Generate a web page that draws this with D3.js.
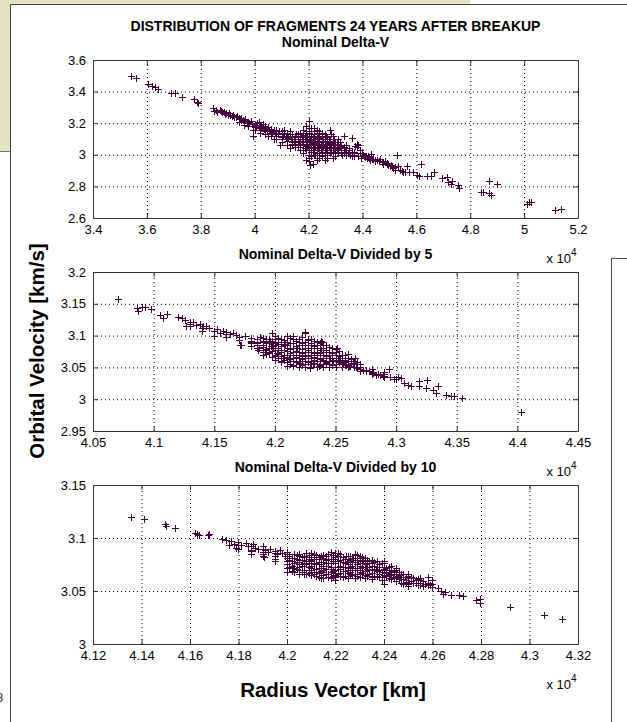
<!DOCTYPE html>
<html>
<head>
<meta charset="utf-8">
<script src="https://cdn.jsdelivr.net/npm/d3@7"></script>
<style>
  body { margin: 0; background: #fff; }
  text { font-family: "Liberation Sans", Arial, sans-serif; }
</style>
</head>
<body>
<script>
"use strict";

// ---- data (x in units of 10^4 km, y in km/s) ----
let nominalPoints = [
	// upper left tail
	[3.54,3.50],[3.561,3.488],[3.604,3.446],[3.62,3.437],[3.629,3.431],[3.643,3.414],[3.691,3.389],[3.703,3.389],
	[3.73,3.364],[3.775,3.351],[3.787,3.334],[3.79,3.326],
	// band 3.84 - 4.0
	[3.845,3.298],[3.848,3.28],[3.855,3.285],[3.862,3.27],[3.87,3.282],[3.875,3.275],[3.88,3.268],[3.885,3.272],
	[3.89,3.26],[3.895,3.265],[3.9,3.255],[3.905,3.262],[3.91,3.25],[3.915,3.245],[3.92,3.255],[3.925,3.24],
	[3.93,3.238],[3.935,3.245],[3.94,3.23],[3.945,3.228],[3.95,3.235],[3.955,3.22],[3.96,3.215],[3.965,3.225],
	[3.97,3.21],[3.975,3.205],[3.98,3.2],[3.985,3.212],[3.99,3.195],[3.993,3.158],[3.995,3.118],[3.96,3.19],
	[3.94,3.205],[3.975,3.185],
	// band 4.0 - 4.15
	[4.0,3.19],[4.005,3.18],[4.01,3.2],[4.015,3.175],[4.02,3.185],[4.025,3.17],[4.03,3.195],[4.035,3.165],
	[4.04,3.18],[4.045,3.16],[4.05,3.175],[4.055,3.15],[4.06,3.165],[4.065,3.145],[4.07,3.16],[4.075,3.14],
	[4.08,3.155],[4.085,3.13],[4.09,3.15],[4.094,3.063],[4.1,3.14],[4.105,3.12],[4.11,3.135],[4.115,3.11],
	[4.12,3.13],[4.125,3.105],[4.13,3.12],[4.135,3.1],[4.14,3.115],[4.145,3.09],[4.15,3.11],[4.02,3.14],
	[4.04,3.13],[4.06,3.12],[4.08,3.1],[4.1,3.08],[4.12,3.06],[4.13,3.04],[4.11,3.16],[4.13,3.15],
	[4.05,3.12],[4.015,3.205],[4.0,3.16],[4.07,3.1],[4.14,3.07],[4.15,3.05],
	[4.0,3.185],[4.0,3.175],[4.02,3.17],[4.02,3.16],[4.02,3.19],[4.04,3.16],[4.04,3.15],[4.04,3.17],
	[4.06,3.15],[4.06,3.14],[4.06,3.13],[4.08,3.14],[4.08,3.13],[4.08,3.12],[4.08,3.15],[4.1,3.13],
	[4.1,3.12],[4.1,3.11],[4.1,3.1],[4.1,3.15],[4.12,3.12],[4.12,3.11],[4.12,3.1],[4.12,3.09],
	[4.12,3.14],[4.14,3.11],[4.14,3.1],[4.14,3.08],[4.14,3.13],[4.14,3.06],
	// core
	[4.155,3.13],[4.16,3.1],[4.165,3.08],[4.17,3.06],[4.175,3.12],[4.18,3.09],[4.185,3.04],[4.19,3.15],
	[4.195,3.07],[4.2,3.215],[4.2,3.11],[4.2,3.05],[4.203,2.98],[4.206,2.937],[4.21,3.17],[4.21,3.09],
	[4.215,3.02],[4.218,2.943],[4.22,3.13],[4.22,3.06],[4.225,3.1],[4.225,3.0],[4.23,3.16],[4.23,3.08],
	[4.235,3.04],[4.24,3.12],[4.24,2.98],[4.245,3.07],[4.25,3.14],[4.25,3.03],[4.255,3.1],[4.26,3.06],
	[4.26,2.97],[4.265,3.12],[4.27,3.04],[4.275,3.09],[4.28,3.158],[4.28,3.01],[4.285,3.133],[4.285,3.06],
	[4.29,3.03],[4.295,3.1],[4.3,3.05],[4.3,2.99],[4.305,3.08],[4.31,3.02],[4.317,3.08],[4.32,3.04],
	[4.325,3.0],[4.33,3.12],[4.335,3.03],[4.34,3.06],[4.345,3.01],[4.35,3.04],[4.355,3.0],[4.36,3.02],
	[4.37,3.0],[4.38,3.05],[4.385,2.99],[4.39,3.01],[4.395,2.98],
	[4.17,3.11],[4.18,3.125],[4.185,3.1],[4.19,3.08],[4.195,3.12],[4.2,3.09],[4.205,3.07],[4.21,3.12],
	[4.215,3.06],[4.22,3.09],[4.225,3.05],[4.23,3.11],[4.235,3.07],[4.24,3.09],[4.245,3.04],[4.25,3.08],
	[4.255,3.05],[4.26,3.09],[4.265,3.03],[4.27,3.07],[4.275,3.05],[4.28,3.08],[4.285,3.02],[4.29,3.06],
	[4.295,3.04],[4.3,3.07],[4.31,3.05],[4.32,3.06],[4.33,3.04],[4.34,3.03],[4.19,3.03],[4.2,3.0],
	[4.21,3.04],[4.22,3.02],[4.23,3.03],[4.24,3.05],[4.25,3.0],[4.26,3.02],[4.27,3.0],[4.28,3.03],
	[4.17,3.14],[4.18,3.16],[4.19,3.18],[4.2,3.14],[4.21,3.15],[4.22,3.17],[4.24,3.15],[4.26,3.13],
	[4.27,3.11],[4.29,3.12],[4.31,3.1],[4.16,3.05],[4.17,3.03],[4.18,3.01],[4.19,2.97],[4.2,2.96],
	[4.21,2.99],[4.23,2.97],[4.25,2.99],[4.27,2.98],[4.29,2.98],
	// core fill
	[4.15,3.09],[4.15,3.12],[4.15,3.07],[4.15,3.1],[4.16,3.11],[4.16,3.08],[4.16,3.13],[4.16,3.06],
	[4.17,3.09],[4.17,3.12],[4.17,3.07],[4.17,3.1],[4.17,3.05],[4.18,3.11],[4.18,3.08],[4.18,3.06],
	[4.18,3.14],[4.18,3.03],[4.19,3.1],[4.19,3.12],[4.19,3.06],[4.19,3.04],[4.19,3.09],[4.2,3.12],
	[4.2,3.08],[4.2,3.06],[4.2,3.03],[4.2,3.1],[4.2,3.17],[4.21,3.11],[4.21,3.07],[4.21,3.05],
	[4.21,3.02],[4.21,3.13],[4.21,3.09],[4.22,3.1],[4.22,3.08],[4.22,3.04],[4.22,3.0],[4.22,3.12],
	[4.22,3.15],[4.22,3.06],[4.23,3.09],[4.23,3.06],[4.23,3.04],[4.23,3.01],[4.23,3.12],[4.23,3.14],
	[4.23,3.07],[4.24,3.1],[4.24,3.07],[4.24,3.06],[4.24,3.03],[4.24,3.01],[4.24,3.13],[4.24,3.08],
	[4.25,3.09],[4.25,3.06],[4.25,3.05],[4.25,3.02],[4.25,3.11],[4.25,3.07],[4.25,3.04],[4.26,3.08],
	[4.26,3.05],[4.26,3.04],[4.26,3.01],[4.26,3.1],[4.26,3.07],[4.26,3.03],[4.27,3.08],[4.27,3.06],
	[4.27,3.05],[4.27,3.02],[4.27,3.09],[4.27,3.03],[4.28,3.06],[4.28,3.05],[4.28,3.04],[4.28,3.02],
	[4.28,3.07],[4.28,3.09],[4.29,3.05],[4.29,3.04],[4.29,3.02],[4.29,3.07],[4.29,3.08],[4.29,3.01],
	[4.3,3.04],[4.3,3.03],[4.3,3.02],[4.3,3.06],[4.3,3.01],[4.3,3.08],[4.31,3.04],[4.31,3.03],
	[4.31,3.06],[4.31,3.01],[4.31,3.07],[4.32,3.03],[4.32,3.02],[4.32,3.05],[4.32,3.01],[4.33,3.02],
	[4.33,3.03],[4.33,3.01],[4.33,3.05],[4.34,3.02],[4.34,3.01],[4.34,3.04],[4.34,3.0],[4.35,3.02],
	[4.35,3.01],[4.35,3.03],[4.36,3.01],[4.36,3.0],[4.36,2.99],[4.37,3.01],[4.37,3.02],[4.37,2.99],
	[4.175,3.085],[4.185,3.115],[4.195,3.055],[4.205,3.095],[4.215,3.045],[4.215,3.115],[4.225,3.075],[4.235,3.105],
	[4.245,3.055],[4.255,3.085],[4.265,3.045],[4.275,3.075],[4.285,3.045],[4.295,3.065],[4.305,3.035],[4.315,3.055],
	// band 4.36 - 4.56
	[4.3605,3.1032],[4.3728,3.0568],[4.379,3.0673],[4.3852,3.0632],[4.3914,3.0316],[4.4,3.0105],[4.4037,3.0],
	[4.4099,2.9853],[4.416,2.979],[4.4222,2.9895],[4.4321,3.0063],[4.4284,2.9684],[4.4407,2.9726],[4.4469,2.9579],
	[4.4556,2.9642],[4.4654,2.9726],[4.4716,2.9516],[4.4778,2.9432],[4.484,2.9579],[4.4901,2.9474],[4.4963,2.9368],
	[4.5025,2.9263],[4.5086,2.9305],[4.5148,2.9158],[4.521,2.9053],[4.5333,2.9263],[4.5395,2.9053],[4.5457,2.8968],
	[4.5519,2.8926],[4.558,2.8884],[4.405,2.995],[4.415,2.99],[4.425,2.98],[4.435,2.975],[4.445,2.965],
	[4.46,2.96],[4.475,2.955],[4.49,2.94],[4.505,2.935],[4.52,2.92],
	// right tail
	[4.564,2.926],[4.53,3.0],[4.546,2.895],[4.573,2.888],[4.589,2.888],[4.601,2.874],[4.617,2.943],[4.611,2.863],
	[4.638,2.863],[4.654,2.863],[4.667,2.89],[4.694,2.853],[4.712,2.859],[4.718,2.825],[4.727,2.817],[4.731,2.832],
	[4.756,2.806],[4.757,2.789],[4.84,2.764],[4.848,2.764],[4.868,2.834],[4.87,2.758],[4.877,2.747],[4.898,2.815],
	[5.012,2.69],[5.017,2.699],[5.025,2.70],[5.114,2.651],[5.137,2.657]
];

let divided5Points = [
	[4.0706,3.1575],[4.0863,3.1433],[4.0868,3.139],[4.09,3.145],[4.0927,3.145],[4.0982,3.1418],[4.105,3.132],
	[4.1078,3.128],[4.111,3.134],[4.12,3.13],[4.123,3.128],[4.1257,3.125],[4.1265,3.1145],[4.13,3.122],
	[4.1326,3.121],[4.1353,3.117],[4.138,3.119],[4.141,3.1155],[4.1436,3.1145],[4.146,3.112],[4.152,3.11],
	[4.1546,3.104],[4.1573,3.1066],[4.16,3.105],[4.1628,3.103],[4.1656,3.104],[4.1683,3.101],[4.171,3.0856],
	[4.1724,3.0856],[4.175,3.1],[4.18,3.097],[4.185,3.094],[4.1873,3.08],[4.19,3.092],[4.195,3.09],
	[4.198,3.104],[4.2,3.088],[4.1875,3.098],[4.19,3.096],[4.193,3.094],[4.196,3.091],
	[4.13,3.118],[4.13,3.115],[4.14,3.112],[4.14,3.108],[4.15,3.108],[4.15,3.1],[4.16,3.102],[4.16,3.098],
	[4.17,3.098],[4.17,3.093],[4.18,3.092],[4.18,3.088],[4.18,3.083],[4.185,3.09],[4.185,3.085],[4.185,3.08],
	// core
	[4.2,3.095],[4.2,3.08],[4.2,3.07],[4.205,3.09],[4.205,3.075],[4.205,3.06],[4.21,3.1],[4.21,3.085],
	[4.21,3.07],[4.215,3.095],[4.215,3.08],[4.215,3.065],[4.22,3.09],[4.22,3.075],[4.22,3.06],[4.225,3.085],
	[4.225,3.07],[4.225,3.055],[4.23,3.095],[4.23,3.08],[4.23,3.065],[4.235,3.085],[4.235,3.07],[4.24,3.08],
	[4.24,3.065],[4.24,3.055],[4.245,3.075],[4.245,3.06],[4.25,3.07],[4.25,3.06],[4.255,3.065],[4.255,3.055],
	[4.26,3.06],[4.265,3.055],[4.27,3.05],[4.275,3.045],[4.28,3.043],[4.285,3.04],[4.29,3.037],[4.295,3.035],
	[4.3,3.031],[4.195,3.075],[4.19,3.085],[4.185,3.088],[4.18,3.09],[4.2124,3.0594],[4.2151,3.0515],
	[4.2206,3.0568],[4.2289,3.0505],[4.2068,3.0646],[4.1986,3.083],[4.1862,3.0777],[4.2247,3.104],
	[4.2385,3.0893],[4.2509,3.0798],[4.2245,3.105],[4.2382,3.0909],[4.2505,3.0793],[4.2602,3.0715],
	[4.2657,3.0646],[4.2643,3.0568],[4.2945,3.0474],
	// core fill
	[4.19,3.09],[4.19,3.082],[4.19,3.075],[4.19,3.07],[4.195,3.088],[4.195,3.08],[4.195,3.072],[4.195,3.095],
	[4.2,3.085],[4.2,3.077],[4.2,3.068],[4.2,3.062],[4.2,3.09],[4.2,3.1],[4.205,3.083],[4.205,3.078],
	[4.205,3.068],[4.205,3.058],[4.205,3.095],[4.21,3.09],[4.21,3.08],[4.21,3.076],[4.21,3.066],[4.21,3.058],
	[4.21,3.052],[4.215,3.088],[4.215,3.075],[4.215,3.07],[4.215,3.06],[4.215,3.054],[4.215,3.1],[4.22,3.095],
	[4.22,3.085],[4.22,3.07],[4.22,3.065],[4.22,3.056],[4.22,3.05],[4.225,3.09],[4.225,3.08],[4.225,3.075],
	[4.225,3.065],[4.225,3.06],[4.225,3.05],[4.23,3.088],[4.23,3.085],[4.23,3.075],[4.23,3.07],[4.23,3.06],
	[4.23,3.055],[4.235,3.09],[4.235,3.08],[4.235,3.075],[4.235,3.065],[4.235,3.06],[4.235,3.055],[4.235,3.05],
	[4.24,3.085],[4.24,3.075],[4.24,3.07],[4.24,3.06],[4.24,3.05],[4.245,3.082],[4.245,3.07],[4.245,3.065],
	[4.245,3.055],[4.245,3.05],[4.25,3.075],[4.25,3.065],[4.25,3.055],[4.25,3.05],[4.255,3.07],[4.255,3.06],
	[4.255,3.05],[4.26,3.065],[4.26,3.055],[4.26,3.05],[4.265,3.06],[4.265,3.05],[4.27,3.055],[4.27,3.045],
	[4.28,3.048],[4.28,3.04],[4.29,3.042],[4.29,3.035],
	[4.202,3.073],[4.208,3.087],[4.212,3.063],[4.218,3.081],[4.222,3.068],[4.227,3.093],[4.232,3.062],[4.238,3.078],
	[4.242,3.058],[4.247,3.073],[4.252,3.061],[4.258,3.058],[4.262,3.052],[4.268,3.049],[4.197,3.083],[4.192,3.078],
	[4.1925,3.088],[4.1925,3.079],[4.1925,3.071],[4.1975,3.092],[4.1975,3.084],[4.1975,3.076],[4.1975,3.066],
	[4.2025,3.096],[4.2025,3.087],[4.2025,3.08],[4.2025,3.071],[4.2025,3.064],[4.2075,3.093],[4.2075,3.085],
	[4.2075,3.077],[4.2075,3.07],[4.2075,3.062],[4.2125,3.097],[4.2125,3.088],[4.2125,3.079],[4.2125,3.072],
	[4.2125,3.064],[4.2125,3.056],[4.2175,3.092],[4.2175,3.084],[4.2175,3.076],[4.2175,3.067],[4.2175,3.058],
	[4.2225,3.098],[4.2225,3.088],[4.2225,3.079],[4.2225,3.072],[4.2225,3.063],[4.2225,3.054],[4.2275,3.094],
	[4.2275,3.086],[4.2275,3.077],[4.2275,3.068],[4.2275,3.058],[4.2325,3.091],[4.2325,3.083],[4.2325,3.073],
	[4.2325,3.066],[4.2325,3.057],[4.2375,3.088],[4.2375,3.081],[4.2375,3.072],[4.2375,3.063],[4.2375,3.053],
	[4.2425,3.085],[4.2425,3.077],[4.2425,3.068],[4.2425,3.058],[4.2475,3.08],[4.2475,3.072],[4.2475,3.062],
	[4.2475,3.053],[4.2525,3.076],[4.2525,3.068],[4.2525,3.058],[4.2575,3.07],[4.2575,3.062],[4.2575,3.053],
	[4.2625,3.063],[4.2625,3.056],[4.2675,3.058],[4.2675,3.051],
	// band 4.23 - 4.29
	[4.2533,3.062],[4.256,3.0568],[4.2588,3.0541],[4.2615,3.0515],[4.267,3.0505],[4.2698,3.0473],[4.2725,3.0463],
	[4.2753,3.0452],[4.278,3.0436],[4.2808,3.041],[4.2863,3.0384],[4.2904,3.04],[4.2396,3.062],[4.2423,3.0568],
	[4.2451,3.0646],[4.2478,3.0594],[4.2286,3.0489],[4.2313,3.0568],[4.2368,3.0515],
	// right tail
	[4.2835,3.0384],[4.289,3.0358],[4.2986,3.0316],[4.3014,3.0342],[4.3041,3.0332],[4.3069,3.0253],[4.3096,3.0227],
	[4.3124,3.0211],[4.3187,3.0279],[4.3192,3.02],[4.3255,3.0305],[4.3247,3.0174],[4.3302,3.0137],[4.333,3.0105],
	[4.3343,3.02],[4.3412,3.0069],[4.3453,3.0053],[4.3481,3.0043],[4.3544,3.0017],[4.403,2.9792]
];

let divided10Points = [
	[4.1356,3.1198],[4.1411,3.1176],[4.1497,3.1129],[4.1501,3.1116],[4.1538,3.1091],[4.162,3.1044],[4.163,3.1035],
	[4.1638,3.1028],[4.1675,3.1025],[4.168,3.1035],
	[4.173,3.0987],[4.175,3.098],[4.177,3.097],[4.178,3.094],[4.18,3.096],[4.181,3.093],[4.183,3.095],[4.184,3.092],
	[4.186,3.094],[4.187,3.091],[4.188,3.09],[4.19,3.092],[4.191,3.089],[4.192,3.087],[4.193,3.09],[4.195,3.088],
	[4.196,3.085],[4.197,3.089],[4.198,3.086],[4.199,3.083],[4.2,3.087],[4.179,3.091],[4.185,3.089],[4.19,3.085],
	[4.195,3.08],[4.176,3.093],[4.1904,3.0818],[4.2025,3.072],
	[4.18,3.093],[4.18,3.09],[4.185,3.092],[4.185,3.088],[4.185,3.085],[4.19,3.09],[4.19,3.087],[4.19,3.083],
	[4.195,3.086],[4.195,3.083],[4.195,3.078],
	// core
	[4.201,3.083],[4.202,3.078],[4.203,3.085],[4.204,3.08],[4.205,3.075],[4.206,3.082],[4.207,3.07],[4.208,3.078],
	[4.209,3.084],[4.21,3.074],[4.211,3.08],[4.212,3.068],[4.213,3.077],[4.2134,3.0635],[4.214,3.083],[4.215,3.072],
	[4.216,3.079],[4.217,3.066],[4.218,3.076],[4.219,3.084],[4.2196,3.0603],[4.22,3.07],[4.221,3.078],[4.222,3.064],
	[4.223,3.082],[4.224,3.073],[4.2244,3.0828],[4.225,3.067],[4.226,3.077],[4.227,3.07],[4.2271,3.0815],[4.228,3.062],
	[4.229,3.075],[4.23,3.068],[4.231,3.079],[4.2313,3.0784],[4.232,3.065],[4.2326,3.0727],[4.234,3.07],[4.235,3.063],
	[4.236,3.074],[4.2368,3.0711],[4.238,3.066],[4.239,3.06],[4.24,3.068],[4.2402,3.057],[4.241,3.064],[4.2423,3.0664],
	[4.243,3.061],[4.244,3.066],[4.245,3.059],[4.2464,3.0634],[4.247,3.058],[4.2491,3.0587],[4.25,3.057],[4.251,3.059],
	[4.2533,3.0603],[4.254,3.056],[4.255,3.058],[4.256,3.055],[4.257,3.057],[4.2581,3.0628],[4.2581,3.0555],[4.259,3.056],
	[4.205,3.07],[4.21,3.065],[4.215,3.062],[4.22,3.08],[4.225,3.075],[4.23,3.072],[4.235,3.078],[4.24,3.073],
	[4.208,3.086],[4.212,3.082],[4.218,3.071],[4.222,3.074],[4.226,3.066],[4.233,3.076],[4.237,3.069],[4.2,3.075],
	[4.203,3.072],[4.243,3.07],[4.246,3.065],[4.217,3.085],[4.221,3.083],[4.229,3.084],
	// core fill
	[4.2,3.085],[4.2,3.081],[4.2,3.078],[4.2,3.072],[4.2,3.068],[4.205,3.083],[4.205,3.079],[4.205,3.073],
	[4.205,3.066],[4.21,3.082],[4.21,3.078],[4.21,3.076],[4.21,3.07],[4.21,3.068],[4.215,3.081],[4.215,3.077],
	[4.215,3.074],[4.215,3.068],[4.215,3.065],[4.22,3.084],[4.22,3.078],[4.22,3.073],[4.22,3.067],[4.22,3.063],
	[4.22,3.086],[4.225,3.08],[4.225,3.078],[4.225,3.072],[4.225,3.064],[4.225,3.062],[4.23,3.081],[4.23,3.076],
	[4.23,3.07],[4.23,3.066],[4.23,3.063],[4.235,3.079],[4.235,3.074],[4.235,3.067],[4.235,3.061],[4.24,3.076],
	[4.24,3.071],[4.24,3.065],[4.24,3.06],[4.245,3.072],[4.245,3.068],[4.245,3.062],[4.25,3.066],[4.25,3.062],
	[4.25,3.058],[4.25,3.055],[4.255,3.062],[4.255,3.06],[4.255,3.056],[4.26,3.057],[4.26,3.054],[4.26,3.06],
	[4.202,3.081],[4.202,3.074],[4.202,3.069],[4.204,3.084],[4.204,3.077],[4.204,3.071],[4.206,3.079],[4.206,3.074],
	[4.206,3.068],[4.208,3.082],[4.208,3.075],[4.208,3.066],[4.21,3.086],[4.21,3.079],[4.21,3.072],[4.212,3.084],
	[4.212,3.076],[4.212,3.071],[4.212,3.064],[4.214,3.08],[4.214,3.075],[4.214,3.069],[4.214,3.062],[4.216,3.083],
	[4.216,3.076],[4.216,3.071],[4.216,3.066],[4.218,3.087],[4.218,3.08],[4.218,3.073],[4.218,3.068],[4.218,3.062],
	[4.22,3.082],[4.22,3.076],[4.22,3.065],[4.222,3.085],[4.222,3.079],[4.222,3.071],[4.222,3.067],[4.224,3.08],
	[4.224,3.076],[4.224,3.069],[4.224,3.064],[4.226,3.083],[4.226,3.079],[4.226,3.073],[4.226,3.068],[4.228,3.085],
	[4.228,3.077],[4.228,3.072],[4.228,3.066],[4.23,3.083],[4.23,3.078],[4.23,3.074],[4.232,3.081],[4.232,3.075],
	[4.232,3.069],[4.232,3.062],[4.234,3.078],[4.234,3.073],[4.234,3.066],[4.236,3.077],[4.236,3.071],[4.236,3.064],
	[4.238,3.075],[4.238,3.07],[4.238,3.063],[4.24,3.078],[4.24,3.07],[4.242,3.073],[4.242,3.068],[4.242,3.062],
	[4.244,3.069],[4.244,3.063],[4.246,3.068],[4.246,3.061],[4.248,3.066],[4.248,3.061],[4.248,3.057],[4.25,3.064],
	[4.252,3.062],[4.252,3.058],[4.254,3.061],[4.256,3.059],[4.258,3.058],
	[4.201,3.079],[4.201,3.073],[4.203,3.081],[4.203,3.076],[4.203,3.068],[4.205,3.085],[4.205,3.077],[4.207,3.083],
	[4.207,3.076],[4.207,3.066],[4.209,3.08],[4.209,3.073],[4.209,3.067],[4.211,3.085],[4.211,3.075],[4.211,3.066],
	[4.213,3.082],[4.213,3.072],[4.213,3.067],[4.215,3.084],[4.215,3.07],[4.217,3.08],[4.217,3.074],[4.217,3.063],
	[4.219,3.078],[4.219,3.069],[4.219,3.064],[4.221,3.086],[4.221,3.073],[4.221,3.066],[4.223,3.077],[4.223,3.069],
	[4.223,3.063],[4.225,3.083],[4.225,3.07],[4.227,3.081],[4.227,3.074],[4.227,3.065],[4.229,3.079],[4.229,3.07],
	[4.229,3.064],[4.231,3.082],[4.231,3.073],[4.231,3.067],[4.233,3.079],[4.233,3.071],[4.233,3.064],[4.235,3.076],
	[4.235,3.07],[4.237,3.078],[4.237,3.073],[4.237,3.064],[4.239,3.076],[4.239,3.068],[4.239,3.063],[4.241,3.072],
	[4.241,3.067],[4.243,3.074],[4.243,3.065],[4.245,3.07],[4.245,3.064],[4.247,3.066],[4.247,3.061],[4.249,3.063],
	[4.249,3.06],[4.251,3.063],[4.253,3.058],[4.255,3.06],
	// right tail
	[4.2622,3.0532],[4.2636,3.05],[4.2643,3.0468],[4.265,3.049],[4.2677,3.0459],[4.2711,3.0459],[4.2725,3.045],
	[4.278,3.0412],[4.2794,3.0427],[4.2794,3.0387],[4.292,3.0349],[4.3059,3.0276],[4.3135,3.0232]
];

let nominalXTicks = [3.4,3.6,3.8,4,4.2,4.4,4.6,4.8,5,5.2];
let nominalYTicks = [2.6,2.8,3,3.2,3.4,3.6];
let divided5XTicks = [4.05,4.1,4.15,4.2,4.25,4.3,4.35,4.4,4.45];
let divided5YTicks = [2.95,3,3.05,3.1,3.15,3.2];
let divided10XTicks = [4.12,4.14,4.16,4.18,4.2,4.22,4.24,4.26,4.28,4.3,4.32];
let divided10YTicks = [3,3.05,3.1,3.15];

let mainTitle = "DISTRIBUTION OF FRAGMENTS 24 YEARS AFTER BREAKUP";
let panelTitles = ["Nominal Delta-V", "Nominal Delta-V Divided by 5", "Nominal Delta-V Divided by 10"];

// ---- layout ----
let width = 627, height = 722;
let left = 93, right = 578;
let markerColor = "#47003f";

let panels = [
	{ points: nominalPoints, xTicks: nominalXTicks, yTicks: nominalYTicks, top: 60, bottom: 218, title: panelTitles[0] },
	{ points: divided5Points, xTicks: divided5XTicks, yTicks: divided5YTicks, top: 272, bottom: 431, title: panelTitles[1] },
	{ points: divided10Points, xTicks: divided10XTicks, yTicks: divided10YTicks, top: 485, bottom: 644, title: panelTitles[2] }
];

let svg = d3.select("body").append("svg")
	.attr("width", width)
	.attr("height", height);

// window background bits
svg.append("rect").attr("width", width).attr("height", height).attr("fill", "#fff");
svg.append("rect").attr("x", 0).attr("y", 0).attr("width", 470).attr("height", 152).attr("fill", "#e4e1c5");
svg.append("line").attr("x1", 0).attr("x2", 10).attr("y1", 151.5).attr("y2", 151.5).attr("stroke", "#777");
svg.append("text").attr("x", -4).attr("y", 702).attr("font-size", 13).attr("fill", "#333").text("8");
svg.append("rect")
	.attr("x", 10.5).attr("y", 4.5)
	.attr("width", width).attr("height", height)
	.attr("fill", "#fff")
	.attr("stroke", "#444");
svg.append("path")
	.attr("d", "M611.5," + height + "V258.5H" + width)
	.attr("fill", "none")
	.attr("stroke", "#444");

let fmt = function(d) { return String(+d.toFixed(2)); };

svg.append("text")
	.attr("x", (left + right) / 2).attr("y", 31)
	.attr("text-anchor", "middle")
	.attr("font-size", 14).attr("font-weight", "bold")
	.text(mainTitle);

panels.forEach(function(p)
{
	let x = d3.scaleLinear().domain(d3.extent(p.xTicks)).range([left, right]);
	let y = d3.scaleLinear().domain(d3.extent(p.yTicks)).range([p.bottom, p.top]);
	let h = p.bottom - p.top;
	let g = svg.append("g");

	// dotted grid
	g.append("g")
		.attr("transform", "translate(0," + p.bottom + ")")
		.call(d3.axisBottom(x).tickValues(p.xTicks.slice(1, -1)).tickSize(-h).tickFormat(""))
		.call(function(s) { s.select(".domain").remove(); })
		.selectAll("line")
		.attr("stroke", "#000")
		.attr("stroke-dasharray", "1,3");
	g.append("g")
		.attr("transform", "translate(" + left + ",0)")
		.call(d3.axisLeft(y).tickValues(p.yTicks.slice(1, -1)).tickSize(-(right - left)).tickFormat(""))
		.call(function(s) { s.select(".domain").remove(); })
		.selectAll("line")
		.attr("stroke", "#000")
		.attr("stroke-dasharray", "1,3");

	// markers (pixel-snapped '+')
	g.append("g")
		.attr("shape-rendering", "crispEdges")
		.selectAll("path")
		.data(p.points)
		.enter().append("path")
		.attr("d", function(d)
		{
			let cx = Math.round(x(d[0])) + 0.5, cy = Math.round(y(d[1])) + 0.5;
			return "M" + (cx - 3.5) + "," + cy + "h7M" + cx + "," + (cy - 3.5) + "v7";
		})
		.attr("stroke", markerColor)
		.attr("stroke-width", 1)
		.attr("fill", "none");

	// axes with inward ticks on all sides
	let axes = [
		[d3.axisBottom(x).tickValues(p.xTicks).tickFormat(fmt), "translate(0," + p.bottom + ")"],
		[d3.axisTop(x).tickValues(p.xTicks).tickFormat(""), "translate(0," + p.top + ")"],
		[d3.axisLeft(y).tickValues(p.yTicks).tickFormat(fmt), "translate(" + left + ",0)"],
		[d3.axisRight(y).tickValues(p.yTicks).tickFormat(""), "translate(" + right + ",0)"]
	];
	axes.forEach(function(a)
	{
		let ax = g.append("g")
			.attr("transform", a[1])
			.call(a[0].tickSizeInner(-5).tickSizeOuter(0).tickPadding(7));
		ax.select(".domain").attr("stroke", "#333");
		ax.selectAll("line").attr("stroke", "#333");
		ax.selectAll("text")
			.attr("font-size", 13)
			.attr("font-family", "'Liberation Sans', Arial, sans-serif")
			.attr("fill", "#000");
	});

	// title
	svg.append("text")
		.attr("x", (left + right) / 2).attr("y", p.top - 13)
		.attr("text-anchor", "middle")
		.attr("font-size", 14).attr("font-weight", "bold")
		.text(p.title);

	// exponent label
	svg.append("text")
		.attr("x", right - 7).attr("y", p.bottom + 45)
		.attr("text-anchor", "end")
		.attr("font-size", 13)
		.text("x 10");
	svg.append("text")
		.attr("x", right - 7).attr("y", p.bottom + 38)
		.attr("font-size", 10)
		.text("4");
});

// axis labels
svg.append("text")
	.attr("transform", "translate(44,351) rotate(-90)")
	.attr("text-anchor", "middle")
	.attr("font-size", 20.5).attr("font-weight", "bold")
	.text("Orbital Velocity [km/s]");
svg.append("text")
	.attr("x", 333).attr("y", 697)
	.attr("text-anchor", "middle")
	.attr("font-size", 20.5).attr("font-weight", "bold")
	.text("Radius Vector [km]");
</script>
</body>
</html>
